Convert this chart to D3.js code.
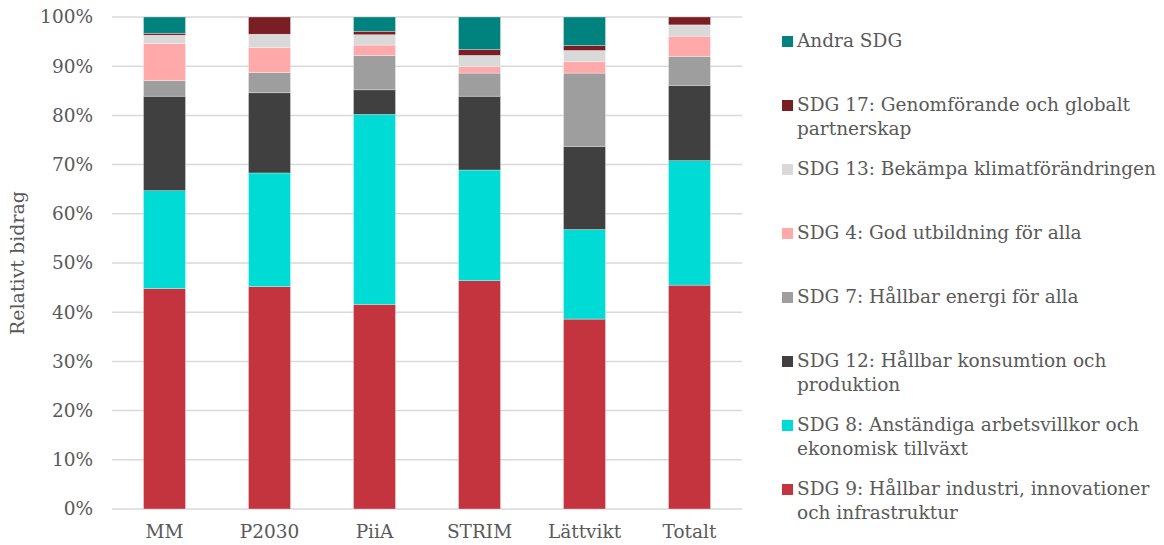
<!DOCTYPE html>
<html>
<head>
<meta charset="utf-8">
<script src="https://cdn.jsdelivr.net/npm/d3@7/dist/d3.min.js"></script>
<style>
  html, body { margin: 0; padding: 0; background: #fff; }
  svg { display: block; }
  text { font-family: "DejaVu Serif", "Liberation Serif", serif; fill: #595959; }
</style>
</head>
<body>
<svg id="chart" width="1164" height="545"></svg>
<script>
// Projects (x categories)
const categories = ["MM", "P2030", "PiiA", "STRIM", "Lättvikt", "Totalt"];

// Share of each SDG per project, in percent (stacked bottom to top)
const sdg9  = [44.8, 45.2, 41.6, 46.4, 38.6, 45.5];
const sdg8  = [19.9, 23.1, 38.6, 22.5, 18.2, 25.3];
const sdg12 = [19.2, 16.3,  5.0, 15.0, 16.9, 15.3];
const sdg7  = [ 3.2,  4.1,  7.0,  4.7, 14.9,  5.9];
const sdg4  = [ 7.5,  5.1,  2.1,  1.3,  2.3,  4.1];
const sdg13 = [ 1.7,  2.7,  2.1,  2.3,  2.3,  2.3];
const sdg17 = [ 0.4,  3.5,  0.7,  1.2,  1.0,  1.6];
const andra = [ 3.3,  0.0,  2.9,  6.6,  5.8,  0.0];

const seriesNames = [
  "SDG 9: Hållbar industri, innovationer och infrastruktur",
  "SDG 8: Anständiga arbetsvillkor och ekonomisk tillväxt",
  "SDG 12: Hållbar konsumtion och produktion",
  "SDG 7: Hållbar energi för alla",
  "SDG 4: God utbildning för alla",
  "SDG 13: Bekämpa klimatförändringen",
  "SDG 17: Genomförande och globalt partnerskap",
  "Andra SDG"
];
// Legend text, wrapped as in the legend box
const legendLines = [
  ["SDG 9: Hållbar industri, innovationer", "och infrastruktur"],
  ["SDG 8: Anständiga arbetsvillkor och", "ekonomisk tillväxt"],
  ["SDG 12: Hållbar konsumtion och", "produktion"],
  ["SDG 7: Hållbar energi för alla"],
  ["SDG 4: God utbildning för alla"],
  ["SDG 13: Bekämpa klimatförändringen"],
  ["SDG 17: Genomförande och globalt", "partnerskap"],
  ["Andra SDG"]
];
const seriesValues = [sdg9, sdg8, sdg12, sdg7, sdg4, sdg13, sdg17, andra];
const colors = ["#C3343F", "#00DCD5", "#404040", "#9E9E9E", "#FFA9AA", "#D9D9D9", "#7A1E24", "#00837F"];

const yTicks = [0, 10, 20, 30, 40, 50, 60, 70, 80, 90, 100];
const yTitle = "Relativt bidrag";

// Build stack input
const rows = categories.map((c, i) => {
  const r = { cat: c };
  seriesNames.forEach((n, k) => { r[n] = seriesValues[k][i]; });
  return r;
});
const stacked = d3.stack().keys(seriesNames)(rows);

const svg = d3.select("#chart");
const margin = { left: 112, right: 422, top: 17, bottom: 36 };
const W = 1164, H = 545;
const fs = 18.5;

const x = d3.scaleBand().domain(categories)
  .range([margin.left, W - margin.right]).paddingInner(0.6).paddingOuter(0.3);
const y = d3.scaleLinear().domain([0, 100]).range([H - margin.bottom, margin.top]);

// Gridlines
svg.append("g").selectAll("line").data(yTicks).join("line")
  .attr("x1", margin.left).attr("x2", W - margin.right)
  .attr("y1", d => y(d)).attr("y2", d => y(d))
  .attr("stroke", "#D9D9D9").attr("stroke-width", 1.5);

// Y axis labels
const yAxis = d3.axisLeft(y).tickValues(yTicks).tickFormat(d => d + "%").tickSize(0).tickPadding(19);
const gy = svg.append("g").attr("transform", `translate(${margin.left},0)`).call(yAxis);
gy.select(".domain").remove();
gy.selectAll("text").attr("font-size", fs).attr("fill", "#595959")
  .style("font-family", '"DejaVu Serif", serif');

// Bars
svg.append("g").selectAll("g").data(stacked).join("g")
  .attr("fill", (d, i) => colors[i])
  .selectAll("rect").data(d => d).join("rect")
  .attr("x", d => x(d.data.cat))
  .attr("width", x.bandwidth())
  .attr("y", d => y(d[1]))
  .attr("height", d => Math.max(0, y(d[0]) - y(d[1])))
  .attr("stroke", "#ffffff").attr("stroke-opacity", 0.5).attr("stroke-width", 0.6);

// X axis labels
const xAxis = d3.axisBottom(x).tickSize(0).tickPadding(16);
const gx = svg.append("g").attr("transform", `translate(0,${y(0)})`).call(xAxis);
gx.select(".domain").remove();
gx.selectAll("text").attr("font-size", fs).attr("fill", "#595959")
  .style("font-family", '"DejaVu Serif", serif');

// Y axis title
svg.append("text")
  .attr("transform", `translate(24,${y(50)}) rotate(-90)`)
  .attr("text-anchor", "middle")
  .attr("font-size", 19)
  .text(yTitle);

// Legend (top entry is last series)
const legendTop = 41, legendStep = 64, lineH = 24;
const legend = svg.append("g");
const order = d3.range(seriesNames.length).reverse();
order.forEach((k, idx) => {
  const cy = legendTop + idx * legendStep;
  legend.append("rect")
    .attr("x", 782).attr("y", cy - 5).attr("width", 11).attr("height", 11)
    .attr("fill", colors[k]);
  legendLines[k].forEach((line, j) => {
    legend.append("text")
      .attr("x", 797).attr("y", cy + j * lineH)
      .attr("dy", "0.35em")
      .attr("font-size", fs)
      .text(line);
  });
});
</script>
</body>
</html>
